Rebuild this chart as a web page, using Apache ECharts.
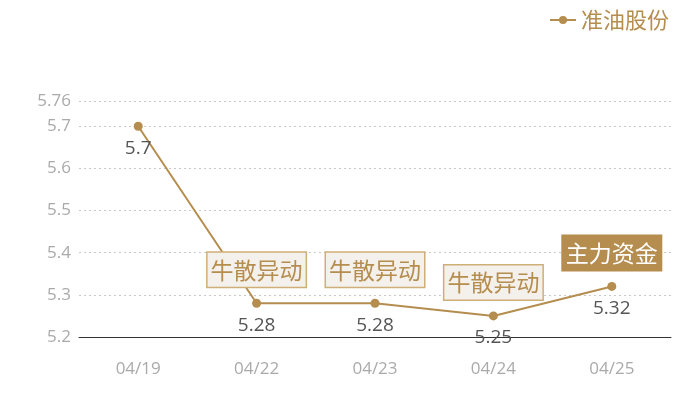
<!DOCTYPE html>
<html>
<head>
<meta charset="utf-8">
<script src="https://cdn.jsdelivr.net/npm/echarts@6/dist/echarts.min.js"></script>
<style>
  html, body { margin: 0; padding: 0; background: #fff; }
  #chart { width: 700px; height: 400px; }
</style>
</head>
<body>
<div id="chart"></div>
<script>
// Data
const dates = ['04/19', '04/22', '04/23', '04/24', '04/25'];
const prices = [5.7, 5.28, 5.28, 5.25, 5.32];
const seriesName = '准油股份';

// Event tags: [date index, text, filled]
const eventIndex = [1, 2, 3, 4];
const eventText = ['牛散异动', '牛散异动', '牛散异动', '主力资金'];
const eventFilled = [false, false, false, true];

const gold = '#b58d4e';
const font = '"Noto Sans CJK SC", "Noto Sans", sans-serif';
const numFont = '"Open Sans", "Noto Sans CJK SC", sans-serif';

// Builds a mark point tag above a data point
const buildTag = (idx, i) => {
    const filled = eventFilled[i];
    return {
        coord: [dates[idx], prices[idx]],
        value: eventText[i],
        symbol: 'circle',
        symbolSize: 1,
        itemStyle: { color: 'transparent' },
        label: {
            show: true,
            position: 'top',
            distance: 16,
            formatter: eventText[i],
            fontFamily: font,
            fontSize: 23,
            lineHeight: 28,
            color: filled ? '#ffffff' : gold,
            backgroundColor: filled ? gold : '#f4f0eb',
            borderColor: filled ? gold : '#cfae78',
            borderWidth: 1.5,
            padding: [3, 3, 3, 3]
        }
    };
};

const chart = echarts.init(document.getElementById('chart'));
chart.setOption({
    animation: false,
    textStyle: { fontFamily: font },
    legend: {
        data: [seriesName],
        right: 26,
        top: 4,
        itemWidth: 26,
        itemHeight: 10,
        itemGap: 6,
        textStyle: { color: gold, fontSize: 22, fontFamily: font }
    },
    grid: { left: 79, right: 29, top: 101, bottom: 63 },
    xAxis: {
        type: 'category',
        data: dates,
        boundaryGap: true,
        axisLine: { lineStyle: { color: '#333', width: 1 } },
        axisTick: { show: false },
        axisLabel: { color: '#aaa', fontSize: 17, margin: 24, fontFamily: numFont }
    },
    yAxis: {
        type: 'value',
        min: 5.2,
        max: 5.76,
        interval: 0.1,
        axisLine: { show: false },
        axisTick: { show: false },
        axisLabel: { color: '#aaa', fontSize: 17, margin: 8, fontFamily: numFont },
        splitLine: { lineStyle: { color: '#c8c8c8', type: [2, 3] } }
    },
    series: [{
        name: seriesName,
        type: 'line',
        data: prices,
        symbol: 'circle',
        symbolSize: 9,
        color: gold,
        lineStyle: { color: gold, width: 2 },
        itemStyle: { color: gold },
        label: {
            show: true,
            position: 'bottom',
            distance: 8,
            color: '#555',
            fontSize: 19,
            fontFamily: numFont
        },
        markPoint: {
            data: eventIndex.map(buildTag)
        }
    }]
});
</script>
</body>
</html>
